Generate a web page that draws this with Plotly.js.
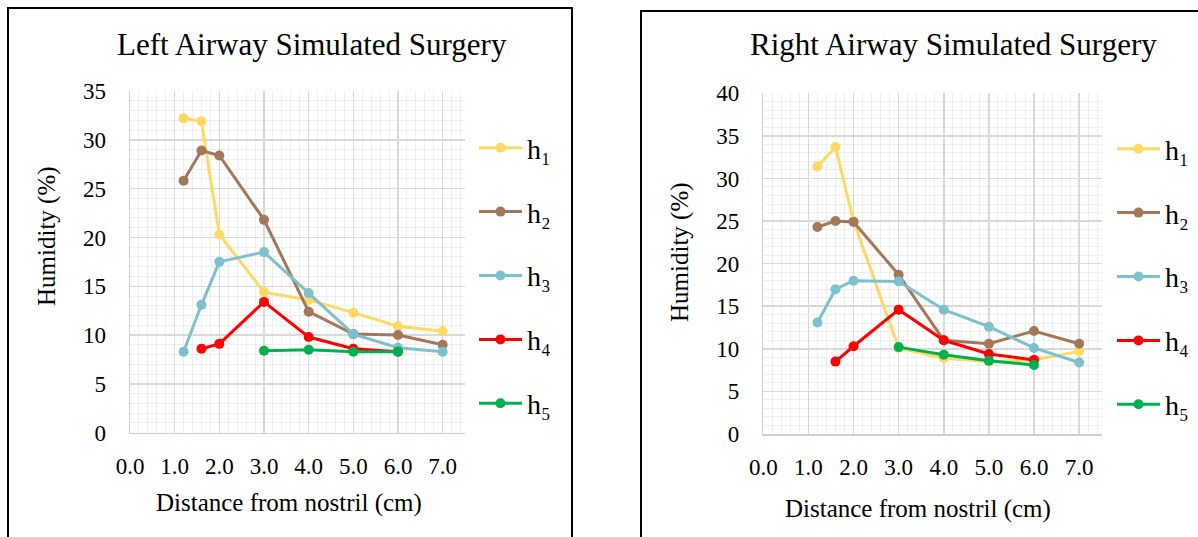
<!DOCTYPE html>
<html>
<head>
<meta charset="utf-8">
<script src="https://cdn.plot.ly/plotly-3.0.1.min.js"></script>
<style>html,body{margin:0;padding:0;background:#fff;}#chart{width:1198px;height:537px;}</style>
</head>
<body>
<div id="chart"></div>
<script>
// Data
const distance = [1.2, 1.6, 2.0, 3.0, 4.0, 5.0, 6.0, 7.0];
const distanceH4 = [1.6, 2.0, 3.0, 4.0, 5.0, 6.0];
const distanceH5 = [3.0, 4.0, 5.0, 6.0];
const seriesNames = ['h₁', 'h₂', 'h₃', 'h₄', 'h₅'];

const leftH1 = [32.2, 31.9, 20.3, 14.4, 13.6, 12.3, 10.9, 10.4];
const leftH2 = [25.8, 28.9, 28.4, 21.8, 12.4, 10.1, 10.0, 9.0];
const leftH3 = [8.3, 13.1, 17.5, 18.5, 14.3, 10.1, 8.7, 8.3];
const leftH4 = [8.6, 9.1, 13.4, 9.8, 8.6, 8.3];
const leftH5 = [8.4, 8.5, 8.3, 8.3];

const rightH1 = [31.4, 33.7, 25.0, 10.1, 8.9, 8.5, 8.7, 9.7];
const rightH2 = [24.3, 25.0, 24.9, 18.7, 11.0, 10.6, 12.1, 10.6];
const rightH3 = [13.1, 17.0, 18.0, 17.9, 14.6, 12.6, 10.1, 8.4];
const rightH4 = [8.5, 10.3, 14.6, 11.0, 9.4, 8.7];
const rightH5 = [10.2, 9.3, 8.6, 8.1];

const xTickVals = [0, 1, 2, 3, 4, 5, 6, 7];
const xTickText = ['0.0', '1.0', '2.0', '3.0', '4.0', '5.0', '6.0', '7.0'];
const titleLeft = 'Left Airway Simulated Surgery';
const titleRight = 'Right Airway Simulated Surgery';
const xTitle = 'Distance from nostril (cm)';
const yTitle = 'Humidity (%)';

const colors = ['#FFD966', '#A5775A', '#7EC1CE', '#FF0000', '#00B050'];
const FONT = "'Liberation Serif', 'Times New Roman', serif";

function mk(x, y, i, side) {
  const left = side === 'L';
  return {
    x: x, y: y, type: 'scatter', mode: 'lines+markers',
    name: seriesNames[i],
    line: {color: colors[i], width: 3},
    marker: {color: colors[i], size: 10},
    xaxis: left ? 'x' : 'x2', yaxis: left ? 'y' : 'y2',
    legend: left ? 'legend' : 'legend2',
    legendgroup: side + i
  };
}

const data = [
  mk(distance, leftH1, 0, 'L'), mk(distance, leftH2, 1, 'L'), mk(distance, leftH3, 2, 'L'),
  mk(distanceH4, leftH4, 3, 'L'), mk(distanceH5, leftH5, 4, 'L'),
  mk(distance, rightH1, 0, 'R'), mk(distance, rightH2, 1, 'R'), mk(distance, rightH3, 2, 'R'),
  mk(distanceH4, rightH4, 3, 'R'), mk(distanceH5, rightH5, 4, 'R')
];

const W = 1198, H = 537;
function px(v) { return v / W; }
function py(v) { return 1 - v / H; }

function xax(domain, anchor) {
  return {
    domain: domain, anchor: anchor, range: [0, 7.5],
    tickvals: xTickVals, ticktext: xTickText,
    showgrid: true, gridcolor: '#d9d9d9', gridwidth: 1.5,
    minor: {dtick: 0.2, showgrid: true, gridcolor: '#efefef', gridwidth: 1},
    zeroline: false, showline: true, linecolor: '#d0d0d0', linewidth: 1.5,
    ticks: '', ticklabelstandoff: 12,
    tickfont: {family: FONT, size: 23, color: '#000'},
    fixedrange: true
  };
}
function yax(domain, anchor, top) {
  return {
    domain: domain, anchor: anchor, range: [0, top], dtick: 5,
    showgrid: true, gridcolor: '#d9d9d9', gridwidth: 1.5,
    minor: {dtick: 1, showgrid: true, gridcolor: '#efefef', gridwidth: 1},
    zeroline: false, showline: true, linecolor: '#d0d0d0', linewidth: 1.5,
    ticks: '', ticklabelstandoff: 18,
    tickfont: {family: FONT, size: 23, color: '#000'},
    fixedrange: true
  };
}

function legend(xLeft, yTop) {
  return {
    x: px(xLeft), y: py(yTop), xanchor: 'left', yanchor: 'top',
    traceorder: 'grouped', tracegroupgap: 24.5, itemwidth: 43,
    font: {family: FONT, size: 28, color: '#000'},
    bgcolor: 'rgba(0,0,0,0)', borderwidth: 0, itemclick: false, itemdoubleclick: false
  };
}

function note(text, x, y, size, angle) {
  return {text: text, xref: 'paper', yref: 'paper', x: px(x), y: py(y),
    xanchor: 'center', yanchor: 'middle', showarrow: false, textangle: angle || 0,
    font: {family: FONT, size: size, color: '#000'}};
}

const layout = {
  width: W, height: H,
  margin: {l: 0, r: 0, t: 0, b: 0},
  font: {family: FONT, color: '#000'},
  paper_bgcolor: '#fff', plot_bgcolor: '#fff',
  showlegend: true,
  xaxis: xax([px(130), px(465)], 'y'),
  yaxis: yax([py(432.7), py(91)], 'x', 35),
  xaxis2: xax([px(763.3), px(1101.7)], 'y2'),
  yaxis2: yax([py(434), py(93.3)], 'x2', 40),
  legend: legend(474, 123),
  legend2: legend(1112, 124),
  annotations: [
    note(titleLeft, 312, 45, 31),
    note(titleRight, 953, 45, 31),
    note(xTitle, 289, 503, 25),
    note(xTitle, 918, 509, 25),
    note(yTitle, 47, 236, 25, -90),
    note(yTitle, 680, 252, 25, -90)
  ],
  shapes: [
    {type: 'rect', xref: 'paper', yref: 'paper', x0: px(8), x1: px(572), y0: -0.2, y1: py(8),
     line: {color: '#000', width: 2}, fillcolor: 'rgba(0,0,0,0)', layer: 'below'},
    {type: 'rect', xref: 'paper', yref: 'paper', x0: px(641), x1: 1.2, y0: -0.2, y1: py(11),
     line: {color: '#000', width: 2}, fillcolor: 'rgba(0,0,0,0)', layer: 'below'}
  ]
};

Plotly.newPlot('chart', data, layout, {displayModeBar: false, staticPlot: true});
</script>
</body>
</html>
